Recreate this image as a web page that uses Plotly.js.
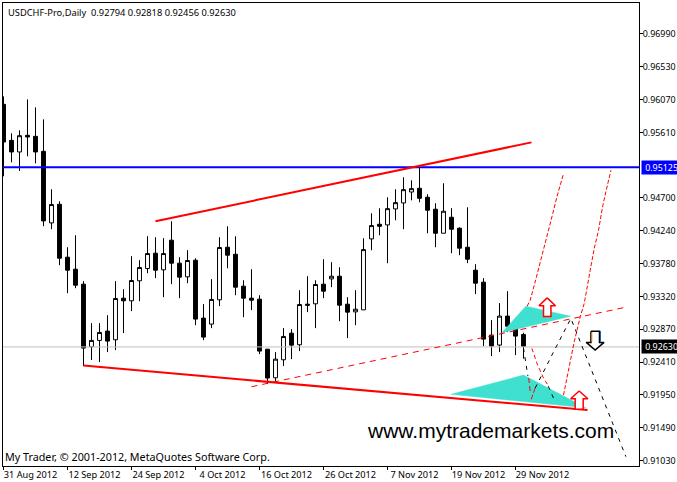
<!DOCTYPE html>
<html><head><meta charset="utf-8">
<script src="https://cdn.plot.ly/plotly-3.0.1.min.js"></script>
<style>html,body{margin:0;padding:0;background:#fff;overflow:hidden}</style>
</head><body><div id="chart" style="width:677px;height:482px"></div>
<script>
var barIndex=[];for(var n=0;n<66;n++)barIndex.push(n);
var open=[.96002,.95500,.95338,.95570,.95556,.95347,.94349,.94609,.93871,.93704,.93495,.92622,.92711,.92841,.92720,.93300,.93263,.93542,.93713,.93927,.93695,.94108,.93788,.93597,.93829,.93022,.92938,.93277,
.94010,.93912,.93467,.93300,.93286,.92589,.92190,.92441,.92812,.92650,.93216,.93221,.93495,.93569,.93606,.93216,.93109,.93137,.94126,.94330,.94321,.94544,.94627,.94780,.94832,
.94707,.94540,.94205,.94428,.94275,.94010,.93690,.93523,.92785,.92646,.93050,.92924,.92794];
var high=[.96113,.95598,.95640,.96071,.95960,.95793,.94818,.94651,.94010,.94177,.93537,.92952,.92952,.93063,.93537,.93425,.93885,.93829,.94164,.94150,.94136,.94372,.93871,.93969,.93857,.93217,.93565,.94150,
.94302,.94163,.93550,.93704,.93341,.92589,.92548,.92882,.92868,.93411,.93606,.93550,.93843,.93801,.93731,.93314,.93411,.94135,.94483,.94553,.94706,.94818,.94985,.94943,.95129,
.94749,.94623,.94902,.94554,.94289,.94567,.93774,.93579,.92994,.93231,.93398,.93022,.92818];
var low=[.94999,.95194,.95073,.95278,.95180,.94303,.94261,.93760,.93370,.93439,.92353,.92437,.92409,.92548,.92576,.92813,.93119,.93258,.93648,.93579,.93314,.93495,.93300,.93509,.92924,.92715,.92882,.93189,
.93717,.93341,.93035,.93133,.92520,.92102,.92130,.92353,.92450,.92562,.93105,.92882,.93300,.93453,.92979,.92743,.92924,.93137,.93968,.94177,.93787,.94386,.94261,.94664,.94637,
.94205,.94010,.94205,.93927,.93899,.93788,.93356,.92632,.92492,.92548,.92827,.92506,.92456];
var close=[.95477,.95338,.95565,.95547,.95338,.94377,.94605,.93857,.93690,.93481,.92604,.92711,.92822,.92701,.93295,.93263,.93546,.93727,.93922,.93690,.93922,.93788,.93593,.93825,.93008,.92757,.93282,.94006,
.93899,.93453,.93300,.93272,.92562,.92186,.92450,.92766,.92645,.93211,.93202,.93490,.93397,.93606,.93202,.93105,.93146,.93977,.94312,.94302,.94548,.94632,.94813,.94827,.94692,
.94526,.94205,.94512,.94261,.93997,.93843,.93509,.92729,.92632,.93050,.92910,.92771,.92630];

var yTickVals=[.96990,.96530,.96070,.95610,.94700,.94240,.93780,.93320,.92870,.92410,.91950,.91490,.91030];
var yTickText=['0.96990','0.96530','0.96070','0.95610','0.94700','0.94240','0.93780','0.93320','0.92870','0.92410','0.91950','0.91490','0.91030'];
var xTickVals=[0,8,16,24,32,40,48,56,64];
var xTickText=['31 Aug 2012','12 Sep 2012','24 Sep 2012','4 Oct 2012','16 Oct 2012','26 Oct 2012','7 Nov 2012','19 Nov 2012','29 Nov 2012'];

var resistanceX=[19,66],resistanceY=[.94372,.95472];
var supportX=[10,73],supportY=[.92360,.91740];
var midX=[31,78],midY=[.92065,.93179];
var levelX=[-1,80],blueLevel=[.95125,.95125],priceLevel=[.9262,.9262];

var upperTriX=[62.3,65.3,70.9,62.3],upperTriY=[.92819,.93188,.93049,.92819];
var lowerTriX=[55.95,65,72.8,55.95],lowerTriY=[.91959,.92228,.91772,.91959];

var redDashAX=[65.46,65.84,66.46,67.18,67.92,68.55,69.17,70.0];
var redDashAY=[.93188,.93272,.93527,.93853,.94153,.94432,.94710,.95036];
var redDashBX=[70.0,71.34,72.09,72.59,73.34,73.84,74.38,74.88,75.34,75.93];
var redDashBY=[.91949,.92691,.93039,.93226,.93690,.93992,.94247,.94571,.94804,.95082];
var redDashCX=[66.05,66.68,67.5,68.05],redDashCY=[.92599,.92391,.92186,.92088];
var redShortX=[65.65,65.84],redShortY=[.92186,.91991];
var redRiseX=[65.96,66.46],redRiseY=[.91889,.92047];
var blackDownX=[65.0,65.55],blackDownY=[.92604,.92214];
var blackTailX=[68.09,68.96],blackTailY=[.92074,.91852];
var blackPathX=[66.46,67.0,67.93,68.55,69.38,70.0,70.92,71.68,72.5,73.55,75.0,75.84,76.68,77.8];
var blackPathY=[.92047,.92158,.92367,.92506,.92691,.92831,.93017,.92808,.92576,.92297,.91880,.91647,.91416,.91090];

var arrowUp1X=[67.96,69.0,68.43,68.43,67.5,67.5,66.93,67.96];
var arrowUp1Y=[.93304,.93193,.93193,.93045,.93045,.93193,.93193,.93304];
var arrowUp2X=[71.96,73.05,72.46,72.46,71.46,71.46,70.9,71.96];
var arrowUp2Y=[.92005,.91898,.91898,.9175,.9175,.91898,.91898,.92005];
var arrowDownX=[73.43,74.5,74.5,75.07,73.96,72.84,73.43,73.43];
var arrowDownY=[.9284,.9284,.92683,.92683,.92576,.92683,.92683,.9284];
var arrowOrangeX=[73.55,73.55],arrowOrangeY=[.92825,.92695];
var arrowBlueX=[74.62,74.62],arrowBlueY=[.92840,.92695];

function lineTrace(x,y,color,w,dash){return {type:'scatter',mode:'lines',x:x,y:y,line:{color:color,width:w,dash:dash||'solid'},hoverinfo:'skip',showlegend:false};}
function polyTrace(x,y,fill,lc,lw){return {type:'scatter',mode:'lines',x:x,y:y,fill:'toself',fillcolor:fill,line:{color:lc,width:lw},hoverinfo:'skip',showlegend:false};}

var traces=[
 lineTrace(levelX,priceLevel,'#c0c0c0',1),
 polyTrace(upperTriX,upperTriY,'#40e0d0','#40e0d0',0.5),
 polyTrace(lowerTriX,lowerTriY,'#40e0d0','#40e0d0',0.5),
 {type:'candlestick',x:barIndex,open:open,high:high,low:low,close:close,whiskerwidth:0,
  increasing:{line:{color:'#000',width:1},fillcolor:'#fff'},
  decreasing:{line:{color:'#000',width:1},fillcolor:'#000'},hoverinfo:'skip',showlegend:false},
 lineTrace(levelX,blueLevel,'#0000ff',2),
 lineTrace(resistanceX,resistanceY,'#ff0000',2),
 lineTrace(supportX,supportY,'#ff0000',2),
 lineTrace(midX,midY,'#ff0000',1,'6px,5px'),
 lineTrace(redDashAX,redDashAY,'#ff0000',1,'4px,2px'),
 lineTrace(redDashBX,redDashBY,'#ff0000',1,'4px,2px'),
 lineTrace(redDashCX,redDashCY,'#ff0000',1,'4px,3px'),
 lineTrace(redShortX,redShortY,'#ff0000',1,'5px,3px'),
 lineTrace(redRiseX,redRiseY,'#ff0000',1,'5px,2px'),
 lineTrace(blackDownX,blackDownY,'#000',1,'4px,5px'),
 lineTrace(blackTailX,blackTailY,'#000',1,'4px,5px'),
 lineTrace(blackPathX,blackPathY,'#000',1,'4px,5px'),
 polyTrace(arrowUp1X,arrowUp1Y,'#fff','#ff0000',1.5),
 polyTrace(arrowUp2X,arrowUp2Y,'#fff','#ff0000',1.5),
 polyTrace(arrowDownX,arrowDownY,'#fff','#000',1.5),
 lineTrace(arrowOrangeX,arrowOrangeY,'#f5a040',1),
 lineTrace(arrowBlueX,arrowBlueY,'#0060c0',1)
];
var layout={width:677,height:482,margin:{l:3,r:38,t:3,b:16},paper_bgcolor:'#fff',plot_bgcolor:'#fff',showlegend:false,
 boxgap:0.3,
 xaxis:{type:'linear',range:[-0.0625,79.4375],rangeslider:{visible:false},tickmode:'array',tickvals:xTickVals,ticktext:xTickText,ticks:'outside',ticklen:3,tickcolor:'#000',showgrid:false,zeroline:false,showline:true,linecolor:'#000',linewidth:1,mirror:true,
  ticklabelshift:27,ticklabelstandoff:-3,tickfont:{family:'Noto Sans',size:9.2,color:'#000'}},
 yaxis:{range:[.90960,.97415],side:'right',tickmode:'array',tickvals:yTickVals,ticktext:yTickText,ticks:'outside',ticklen:3,tickcolor:'#000',showgrid:false,zeroline:false,showline:true,linecolor:'#000',linewidth:1,mirror:true,
  ticklabelstandoff:-2,tickfont:{family:'Noto Sans',size:8.9,color:'#000'}},
 annotations:[
  {xref:'paper',yref:'paper',x:0.004,y:1.0,yshift:-1,xanchor:'left',yanchor:'top',showarrow:false,text:'USDCHF-Pro,Daily  0.92794 0.92818 0.92456 0.92630',font:{family:'Noto Sans',size:9.3,color:'#000'}},
  {xref:'paper',yref:'paper',x:0,y:0,xanchor:'left',yanchor:'bottom',showarrow:false,text:'My Trader, © 2001-2012, MetaQuotes Software Corp.',font:{family:'Noto Sans',size:10.75,color:'#000'}},
  {xref:'x',yref:'y',x:76.5,y:.9146,xanchor:'right',showarrow:false,text:'www.mytrademarkets.com',font:{family:'Liberation Sans',size:21,color:'#000'}},
  {xref:'paper',yref:'y',x:1.003,y:.95125,xanchor:'left',showarrow:false,text:'0.95125',width:36,align:'right',bgcolor:'#0000ff',font:{family:'Noto Sans',size:8.9,color:'#fff'},borderpad:0},
  {xref:'paper',yref:'y',x:1.003,y:.9262,xanchor:'left',showarrow:false,text:'0.92630',width:36,align:'right',bgcolor:'#000',font:{family:'Noto Sans',size:8.9,color:'#fff'},borderpad:0}
 ]};
Plotly.newPlot('chart',traces,layout,{staticPlot:true,displayModeBar:false});
</script></body></html>
